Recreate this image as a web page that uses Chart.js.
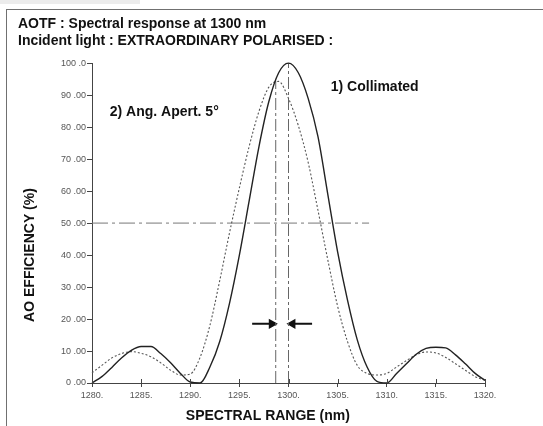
<!DOCTYPE html>
<html><head><meta charset="utf-8">
<script src="https://cdn.jsdelivr.net/npm/chart.js@4.4.1/dist/chart.umd.min.js"></script>
<style>
html,body{margin:0;padding:0;background:#fff;}
#wrap{position:relative;width:543px;height:426px;overflow:hidden;background:#fff;}
#scan{position:absolute;left:0;top:0;width:140px;height:4px;background:#ececec;}
#frame{position:absolute;left:6px;top:9px;width:600px;height:500px;border:1.5px solid #707070;box-sizing:border-box;}
canvas{position:absolute;left:0;top:0;}
</style></head><body>
<div id="wrap"><div id="scan"></div><div id="frame"></div><canvas id="c" width="543" height="426"></canvas></div>
<script>
// ---- data ----
const wavelengths = [1280,1281,1282,1283,1284,1285,1286,1287,1288,1289,1290,
  1291,1292,1293,1294,1295,1296,1297,1298,1299,1300,
  1301,1302,1303,1304,1305,1306,1307,1308,1309,1310,
  1311,1312,1313,1314,1315,1316,1317,1318,1319,1320];
const collimated = [0,2,4.8,7.8,10.2,11.4,11.4,9.2,6.3,3,0.3,
  0,5,13,25,40,57,74,88,97,100,
  97,89,77,59,41,26,13.5,5,0.5,0,
  3,6,9,10.8,11.2,11,8.8,6,3,0.8];
const angAperture = [3.2,5.5,7.8,9.2,9.8,9.3,8.2,6.3,4,2.5,2.8,
  8,18,32,47,61,74,85,92.5,94.3,89,
  80.5,69,54,38.5,24,13,5.5,3,2.5,3,
  5,7,8.8,9.7,9.4,8,6,4,2,0.8];
const seriesNames = ['1) Collimated', '2) Ang. Apert. 5\u00B0'];
const peakCollimated = [1300, 100];
const peakAngAperture = [1298.7, 94.5];
const halfLevel = 50;
const halfLineSpan = [1280, 1308.2];
const arrowLevel = 18.5;
const arrowLeftSpan = [1296.3, 1298.3];
const arrowRightSpan = [1302.4, 1300.4];
const xTickValues = [1280,1285,1290,1295,1300,1305,1310,1315,1320];
const xTickLabels = ['1280.','1285.','1290.','1295.','1300.','1305.','1310.','1315.','1320.'];
const yTickValues = [0,10,20,30,40,50,60,70,80,90,100];
const yTickLabels = ['0 .00','10 .00','20 .00','30 .00','40 .00','50 .00','60 .00','70 .00','80 .00','90 .00','100 .0'];
const titleLines = ['AOTF : Spectral response at 1300 nm', 'Incident light : EXTRAORDINARY POLARISED :'];
const xTitle = 'SPECTRAL RANGE (nm)';
const yTitle = 'AO EFFICIENCY (%)';

// ---- chart ----
const FONT = '"Liberation Sans", Arial, Helvetica, sans-serif';
const pts = (xs, ys) => xs.map((x, i) => ({x, y: ys[i]}));
const DASHDOT = [12,3,3,3];

const annot = {
  id: 'annot',
  afterDraw(chart) {
    const {ctx, chartArea: a, scales: {x, y}} = chart;
    ctx.save();
    ctx.strokeStyle = '#444'; ctx.lineWidth = 1;
    xTickValues.forEach(v => {
      const px = Math.round(x.getPixelForValue(v)) + 0.5;
      ctx.beginPath(); ctx.moveTo(px, a.bottom); ctx.lineTo(px, a.bottom - 4); ctx.stroke();
    });
    ctx.fillStyle = '#111';
    ctx.font = 'bold 14px ' + FONT;
    ctx.textBaseline = 'middle'; ctx.textAlign = 'left';
    ctx.fillText(seriesNames[0], x.getPixelForValue(1304.3), y.getPixelForValue(92.5));
    ctx.fillText(seriesNames[1], x.getPixelForValue(1281.8), y.getPixelForValue(84.6));
    ctx.textAlign = 'center';
    ctx.fillText(xTitle, x.getPixelForValue(1297.9), a.bottom + 33);
    ctx.translate(30, 255); ctx.rotate(-Math.PI / 2);
    ctx.fillText(yTitle, 0, 0);
    ctx.restore();
  }
};

new Chart(document.getElementById('c'), {
  type: 'line',
  data: {
    datasets: [
      {label: seriesNames[0], data: pts(wavelengths, collimated), borderColor: '#222', borderWidth: 1.4,
       pointRadius: 0, cubicInterpolationMode: 'monotone', clip: false},
      {label: seriesNames[1], data: pts(wavelengths, angAperture), borderColor: '#555', borderWidth: 1.1,
       borderDash: [2,2], pointRadius: 0, cubicInterpolationMode: 'monotone', clip: false},
      {label: 'peak1', data: [{x: peakCollimated[0], y: 0}, {x: peakCollimated[0], y: peakCollimated[1]}],
       borderColor: '#666', borderWidth: 1, borderDash: DASHDOT, pointRadius: 0},
      {label: 'peak2', data: [{x: peakAngAperture[0], y: 0}, {x: peakAngAperture[0], y: peakAngAperture[1]}],
       borderColor: '#666', borderWidth: 1, borderDash: DASHDOT, pointRadius: 0},
      {label: 'half', data: [{x: halfLineSpan[0], y: halfLevel}, {x: halfLineSpan[1], y: halfLevel}],
       borderColor: '#777', borderWidth: 1, borderDash: [16,4,3,4], pointRadius: 0},
      {label: 'arrowL', data: [{x: arrowLeftSpan[0], y: arrowLevel}, {x: arrowLeftSpan[1], y: arrowLevel}],
       borderColor: '#111', backgroundColor: '#111', borderWidth: 2, pointStyle: 'triangle',
       pointRadius: [0, 4], pointRotation: 90},
      {label: 'arrowR', data: [{x: arrowRightSpan[0], y: arrowLevel}, {x: arrowRightSpan[1], y: arrowLevel}],
       borderColor: '#111', backgroundColor: '#111', borderWidth: 2, pointStyle: 'triangle',
       pointRadius: [0, 4], pointRotation: -90}
    ]
  },
  options: {
    responsive: false, animation: false,
    layout: {padding: {left: 18, right: 58, top: 0, bottom: 0}},
    plugins: {
      legend: {display: false}, tooltip: {enabled: false},
      title: {display: true, text: titleLines, align: 'start', color: '#111',
        font: {family: FONT, size: 14, weight: 'bold', lineHeight: 1.22},
        padding: {top: 16, bottom: 13}}
    },
    scales: {
      x: {type: 'linear', min: 1280, max: 1320,
        afterBuildTicks: s => { s.ticks = xTickValues.map(v => ({value: v})); },
        afterFit: s => { s.height = 43; },
        ticks: {callback: (v, i) => xTickLabels[i], color: '#555', font: {family: FONT, size: 9}, padding: 3, maxRotation: 0},
        grid: {drawOnChartArea: false, tickLength: 4, color: '#444'},
        border: {color: '#444', width: 1}
      },
      y: {min: 0, max: 100,
        afterBuildTicks: s => { s.ticks = yTickValues.map(v => ({value: v})); },
        afterFit: s => { s.width = 74; },
        ticks: {callback: (v, i) => yTickLabels[i], color: '#555', font: {family: FONT, size: 9}, padding: 1},
        grid: {drawOnChartArea: false, tickLength: 5, color: '#444'},
        border: {color: '#444', width: 1}
      }
    }
  },
  plugins: [annot]
});
</script>
</body></html>
